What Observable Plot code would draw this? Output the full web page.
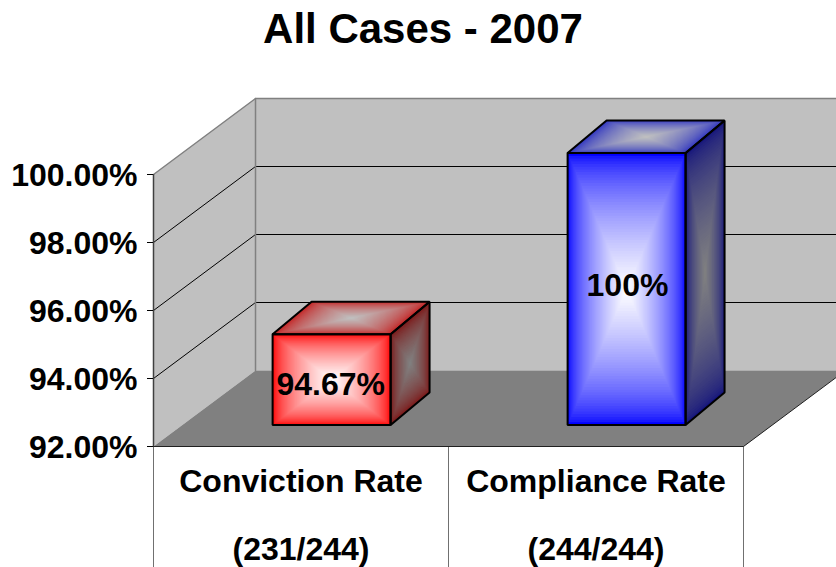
<!DOCTYPE html>
<html>
<head>
<meta charset="utf-8">
<script src="https://cdn.jsdelivr.net/npm/d3@7"></script>
<script src="https://cdn.jsdelivr.net/npm/@observablehq/plot@0.6"></script>
<style>
  html, body { margin: 0; padding: 0; background: #fff; overflow: hidden; }
  #title { height: 60px; width: 836px; box-sizing: border-box; padding-top: 5px; text-align: center; padding-left: 10px;
           font: bold 42px/48px "Liberation Sans", Arial, sans-serif; color: #000; }
</style>
</head>
<body>
<div id="title">All Cases - 2007</div>
<div id="chart"></div>
<script>
// Data
const categories = ["Conviction Rate", "Compliance Rate"];
const counts = ["(231/244)", "(244/244)"];
const rates = [94.67, 100];
const rateLabels = ["94.67%", "100%"];
const rateLabelLevels = [93.2, 96.11];
const rateLabelSlots = [0.497, 1.503];
const tickValues = [92, 94, 96, 98, 100];
const baseline = 92;

// Oblique 3-D projection in data units: full depth moves this far along each scale
const depthX = 0.3458, depthY = 2.235;
const project = (c, v, dx, dy) => ({x: c + dx * depthX, y: v + dy * depthY});

// Bar placement inside its category slot (fractions of slot and depth)
const barWidth = 0.4;
const frontD = {x: 0.3, y: 0.282}, backD = {x: 0.682, y: 0.71};

// Face gradients: [edge, centre]
const palettes = [
  {front: ["#ff0000", "#ffffff"], top: ["#c41c1c", "#c0c0c0"], side: ["#7c1212", "#808080"]},
  {front: ["#0000ff", "#ffffff"], top: ["#2a30c0", "#c0c0c0"], side: ["#14147c", "#808080"]}
];

const steps = 50;
const fillPts = [], outlinePts = [];
let faceId = 0;

function addFace(corners, [edge, centre]) {
  const cx = d3.mean(corners, d => d.x), cy = d3.mean(corners, d => d.y);
  const mix = d3.interpolateRgb(edge, centre);
  for (let i = 0; i < steps; i++) {
    const s = 1 - i / steps, id = `f${faceId}-${i}`, color = mix(Math.pow(i / (steps - 1), 0.62));
    for (const p of corners) fillPts.push({id, color, x: cx + (p.x - cx) * s, y: cy + (p.y - cy) * s});
  }
  for (const p of [...corners, corners[0]]) outlinePts.push({id: `o${faceId}`, x: p.x, y: p.y});
  faceId++;
}

rates.forEach((v, i) => {
  const c0 = i + 0.5 - barWidth / 2, c1 = i + 0.5 + barWidth / 2, pal = palettes[i];
  const P = (c, val, d) => project(c, val, d.x, d.y);
  addFace([P(c0, v, backD), P(c1, v, backD), P(c1, v, frontD), P(c0, v, frontD)], pal.top);
  addFace([P(c1, v, frontD), P(c1, v, backD), P(c1, baseline, backD), P(c1, baseline, frontD)], pal.side);
  addFace([P(c0, v, frontD), P(c1, v, frontD), P(c1, baseline, frontD), P(c0, baseline, frontD)], pal.front);
});

const xMax = categories.length;
const yTop = tickValues[tickValues.length - 1];
const wallCorners = [
  project(0, baseline, 0, 0), project(0, yTop, 0, 0), project(0, yTop, 1, 1),
  project(xMax, yTop, 1, 1), project(xMax, baseline, 1, 1), project(0, baseline, 1, 1), project(0, baseline, 0, 0)
];
const floorCorners = [
  project(0, baseline, 0, 0), project(0, baseline, 1, 1), project(xMax, baseline, 1, 1),
  project(xMax, baseline, 0, 0), project(0, baseline, 0, 0)
];
const wallEdge = [project(0, yTop, 0, 0), project(0, yTop, 1, 1), project(xMax, yTop, 1, 1)];
const wallFold = [project(0, baseline, 1, 1), project(0, yTop, 1, 1)];
const floorEdge = [project(0, baseline, 0, 0), project(xMax, baseline, 0, 0), project(xMax, baseline, 1, 1)];
const grid = tickValues.slice(1, -1).flatMap(v => [
  {id: v, ...project(0, v, 0, 0)}, {id: v, ...project(0, v, 1, 1)}, {id: v, ...project(xMax, v, 1, 1)}
]);

const labels = rateLabels.map((text, i) => ({
  ...project(rateLabelSlots[i], rateLabelLevels[i], frontD.x, frontD.y), text
}));
const slotFloor = baseline - 121 / 34;
const font = {fontSize: 32, fontWeight: "bold", fill: "#000"};

const plot = Plot.plot({
  width: 836,
  height: 507,
  marginLeft: 153,
  marginRight: 93,
  marginTop: 114,
  marginBottom: 121,
  style: {fontFamily: '"Liberation Sans", Arial, sans-serif', overflow: "hidden", background: "#fff"},
  x: {domain: [0, xMax], axis: null},
  y: {domain: [baseline, yTop]},
  color: {type: "identity"},
  marks: [
    Plot.line(wallCorners, {x: "x", y: "y", fill: "#c0c0c0", stroke: "none"}),
    Plot.line(floorCorners, {x: "x", y: "y", fill: "#808080", stroke: "none"}),
    Plot.line(grid, {x: "x", y: "y", z: "id", stroke: "#000", strokeWidth: 1}),
    Plot.line(wallEdge, {x: "x", y: "y", stroke: "#808080", strokeWidth: 1.5}),
    Plot.line(wallFold, {x: "x", y: "y", stroke: "#808080", strokeWidth: 1.5}),
    Plot.ruleX(d3.range(xMax + 1), {y1: baseline, y2: slotFloor, stroke: "#707070", strokeWidth: 1}),
    Plot.ruleX([0], {y1: baseline, y2: yTop, stroke: "#404040", strokeWidth: 1.5}),
    Plot.line(floorEdge, {x: "x", y: "y", stroke: "#202020", strokeWidth: 1}),
    Plot.axisY({ticks: tickValues, text: null, label: null, tickSize: 6, stroke: "#000"}),
    Plot.axisY({
      ticks: tickValues, tickFormat: d => d.toFixed(2) + "%", label: null,
      tickSize: 0, tickPadding: 16, dy: 1, ...font
    }),
    Plot.line(fillPts, {x: "x", y: "y", z: "id", fill: "color", stroke: "none"}),
    Plot.line(outlinePts, {x: "x", y: "y", z: "id", stroke: "#000", strokeWidth: 2, strokeLinejoin: "miter"}),
    Plot.text(labels, {x: "x", y: "y", text: "text", ...font}),
    Plot.text(categories, {x: (d, i) => i + 0.5, y: () => baseline, text: d => d, dy: 35, ...font}),
    Plot.text(counts, {x: (d, i) => i + 0.5, y: () => baseline, text: d => d, dy: 103, ...font})
  ]
});
document.getElementById("chart").appendChild(plot);
</script>
</body>
</html>
